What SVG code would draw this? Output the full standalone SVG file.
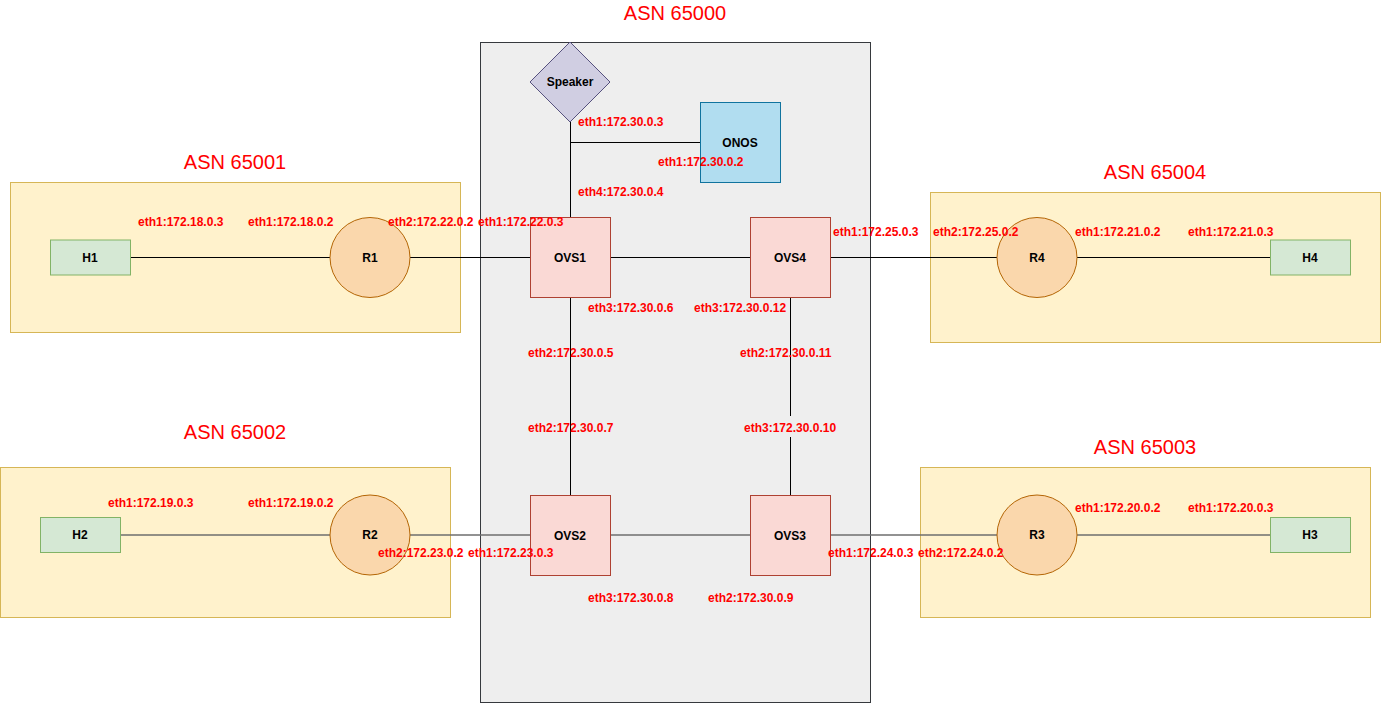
<svg xmlns="http://www.w3.org/2000/svg" width="1381" height="703" viewBox="0 0 1381 703">
<style>
.asn{fill:#fff2cc;stroke:#d6b656;stroke-width:1}
.host{fill:#d5e8d4;stroke:#82b366;stroke-width:1}
.rtr{fill:#fad7ac;stroke:#b46504;stroke-width:1}
.ovs{fill:#fad9d5;stroke:#ae4132;stroke-width:1}
.nl{font-family:"Liberation Sans",Arial,sans-serif;font-size:12px;font-weight:bold;fill:#000;text-anchor:middle}
.lbl{font-family:"Liberation Sans",Arial,sans-serif;font-size:12px;font-weight:bold;fill:#ff0000}
.ttl{font-family:"Liberation Sans",Arial,sans-serif;font-size:20px;fill:#ff0000;text-anchor:middle}
.k{stroke:#000;stroke-width:1;fill:none}
.g{stroke:#6e6e6e;stroke-width:1.5;fill:none}
</style>
<rect width="1381" height="703" fill="#ffffff"/>
<g id="containers">
<rect id="as65000" x="480.5" y="42.5" width="390" height="660" fill="#eeeeee" stroke="#36393d"/>
<rect id="as65001" class="asn" x="10.5" y="182.5" width="450" height="150"/>
<rect id="as65004" class="asn" x="930.5" y="192.5" width="450" height="150"/>
<rect id="as65002" class="asn" x="0.5" y="467.5" width="450" height="150"/>
<rect id="as65003" class="asn" x="920.5" y="467.5" width="450" height="150"/>
<text class="ttl" x="675" y="20">ASN 65000</text>
<text class="ttl" x="235" y="169">ASN 65001</text>
<text class="ttl" x="1155" y="179">ASN 65004</text>
<text class="ttl" x="235" y="439">ASN 65002</text>
<text class="ttl" x="1145" y="454">ASN 65003</text>
</g>
<g id="connectors">
<line class="k" x1="570.5" y1="122" x2="570.5" y2="217"/>
<line class="k" x1="570.5" y1="142.5" x2="700" y2="142.5"/>
<line class="k" x1="130" y1="257.5" x2="330" y2="257.5"/>
<line class="k" x1="410" y1="257.5" x2="530" y2="257.5"/>
<line class="k" x1="610" y1="257.5" x2="750" y2="257.5"/>
<line class="k" x1="830" y1="257.5" x2="997" y2="257.5"/>
<line class="k" x1="1077" y1="257.5" x2="1270" y2="257.5"/>
<line class="k" x1="570.5" y1="297" x2="570.5" y2="495"/>
<line class="k" x1="790.5" y1="297" x2="790.5" y2="416"/>
<line class="k" x1="790.5" y1="437" x2="790.5" y2="495"/>
<line class="g" x1="120" y1="535" x2="330" y2="535"/>
<line class="g" x1="410" y1="535" x2="530" y2="535"/>
<line class="g" x1="610" y1="535" x2="750" y2="535"/>
<line class="g" x1="830" y1="535" x2="997" y2="535"/>
<line class="g" x1="1077" y1="535" x2="1270" y2="535"/>
</g>
<g id="speaker"><polygon points="570,42 610,82 570,122 530,82" fill="#d0cee2" stroke="#56517e"/><text class="nl" x="570" y="86">Speaker</text></g>
<g id="onos"><rect x="700.5" y="102.5" width="80" height="80" fill="#b1ddf0" stroke="#10739e"/><text class="nl" x="740" y="147">ONOS</text></g>
<g id="ovs1"><rect class="ovs" x="530.5" y="217.5" width="80" height="80"/><text class="nl" x="570" y="262">OVS1</text></g>
<g id="ovs4"><rect class="ovs" x="750.5" y="217.5" width="80" height="80"/><text class="nl" x="790" y="262">OVS4</text></g>
<g id="ovs2"><rect class="ovs" x="530.5" y="495.5" width="80" height="80"/><text class="nl" x="570" y="540">OVS2</text></g>
<g id="ovs3"><rect class="ovs" x="750.5" y="495.5" width="80" height="80"/><text class="nl" x="790" y="540">OVS3</text></g>
<g id="h1"><rect class="host" x="50.5" y="240" width="80" height="35"/><text class="nl" x="90" y="262">H1</text></g>
<g id="r1"><circle class="rtr" cx="370" cy="257.5" r="40"/><text class="nl" x="370" y="262">R1</text></g>
<g id="r4"><circle class="rtr" cx="1037" cy="257.5" r="40"/><text class="nl" x="1037" y="262">R4</text></g>
<g id="h4"><rect class="host" x="1270.5" y="240" width="80" height="35"/><text class="nl" x="1310" y="262">H4</text></g>
<g id="h2"><rect class="host" x="40.5" y="517.5" width="80" height="35"/><text class="nl" x="80" y="539">H2</text></g>
<g id="r2"><circle class="rtr" cx="370" cy="535" r="40"/><text class="nl" x="370" y="539">R2</text></g>
<g id="r3"><circle class="rtr" cx="1037" cy="535" r="40"/><text class="nl" x="1037" y="539">R3</text></g>
<g id="h3"><rect class="host" x="1270.5" y="517.5" width="80" height="35"/><text class="nl" x="1310" y="539">H3</text></g>
<g id="labels">
<text class="lbl" x="578" y="126">eth1:172.30.0.3</text>
<text class="lbl" x="658" y="166">eth1:172.30.0.2</text>
<text class="lbl" x="578" y="196">eth4:172.30.0.4</text>
<text class="lbl" x="138" y="226">eth1:172.18.0.3</text>
<text class="lbl" x="248" y="226">eth1:172.18.0.2</text>
<text class="lbl" x="388" y="226">eth2:172.22.0.2</text>
<text class="lbl" x="478" y="226">eth1:172.22.0.3</text>
<text class="lbl" x="833" y="236">eth1:172.25.0.3</text>
<text class="lbl" x="933" y="236">eth2:172.25.0.2</text>
<text class="lbl" x="1075" y="236">eth1:172.21.0.2</text>
<text class="lbl" x="1188" y="236">eth1:172.21.0.3</text>
<text class="lbl" x="588" y="312">eth3:172.30.0.6</text>
<text class="lbl" x="694" y="312">eth3:172.30.0.12</text>
<text class="lbl" x="528" y="357">eth2:172.30.0.5</text>
<text class="lbl" x="740" y="357">eth2:172.30.0.11</text>
<text class="lbl" x="528" y="432">eth2:172.30.0.7</text>
<text class="lbl" x="744" y="432">eth3:172.30.0.10</text>
<text class="lbl" x="108" y="507">eth1:172.19.0.3</text>
<text class="lbl" x="248" y="507">eth1:172.19.0.2</text>
<text class="lbl" x="378" y="557">eth2:172.23.0.2</text>
<text class="lbl" x="468" y="557">eth1:172.23.0.3</text>
<text class="lbl" x="1075" y="512">eth1:172.20.0.2</text>
<text class="lbl" x="1188" y="512">eth1:172.20.0.3</text>
<text class="lbl" x="828" y="557">eth1:172.24.0.3</text>
<text class="lbl" x="918" y="557">eth2:172.24.0.2</text>
<text class="lbl" x="588" y="602">eth3:172.30.0.8</text>
<text class="lbl" x="708" y="602">eth2:172.30.0.9</text>
</g>
</svg>
